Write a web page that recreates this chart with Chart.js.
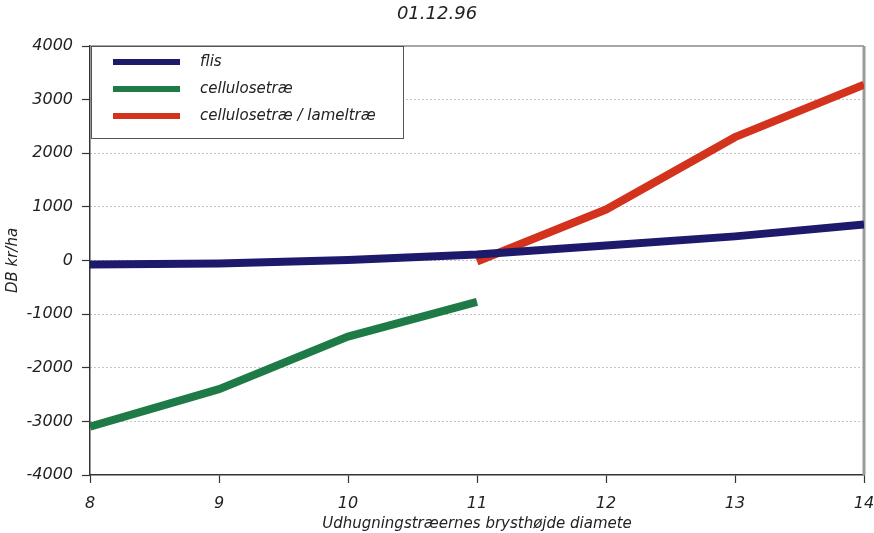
<!DOCTYPE html>
<html>
<head>
<meta charset="utf-8">
<title>DB kr/ha 01.12.96</title>
<script src="https://cdn.jsdelivr.net/npm/chart.js@4"></script>
<style>
  html, body { margin: 0; padding: 0; background: #fff; }
  #wrap { width: 874px; height: 533px; }
</style>
</head>
<body>
<div id="wrap"><canvas id="dbChart" width="874" height="533"></canvas></div>
<script>
// diameter classes (cm) and contribution margin per series (kr/ha)
var diameters = [8, 9, 10, 11, 12, 13, 14];
var flis = [-75, -55, 10, 110, 280, 450, 670];

var celluloseX = [8, 9, 10, 11];
var cellulose = [-3100, -2400, -1420, -770];

var lamelX = [11, 12, 13, 14];
var lamel = [-20, 950, 2300, 3280];

var yTicks = [-4000, -3000, -2000, -1000, 0, 1000, 2000, 3000, 4000];

var seriesNames = ['flis', 'cellulosetræ', 'cellulosetræ / lameltræ'];
var seriesColors = ['#1e1a6b', '#1e7a46', '#d3321c'];

function pts(xs, ys) {
    return xs.map(function (x, i) { return { x: x, y: ys[i] }; });
}

// boxed legend in the upper left corner of the plot
var boxLegend = {
    id: 'boxLegend',
    afterDatasetsDraw: function (chart) {
        var ctx = chart.ctx;
        var a = chart.chartArea;
        var x0 = a.left + 1, y0 = a.top, w = 312, h = 92;
        ctx.save();
        ctx.fillStyle = '#fff';
        ctx.fillRect(x0, y0, w, h);
        ctx.strokeStyle = '#555';
        ctx.lineWidth = 1;
        ctx.strokeRect(x0 + 0.5, y0 + 0.5, w, h);
        ctx.font = 'italic 15px "DejaVu Sans"';
        ctx.textBaseline = 'middle';
        chart.data.datasets.forEach(function (ds, i) {
            var cy = y0 + 16 + i * 27;
            ctx.strokeStyle = ds.borderColor;
            ctx.lineWidth = 6;
            ctx.beginPath();
            ctx.moveTo(x0 + 22, cy);
            ctx.lineTo(x0 + 89, cy);
            ctx.stroke();
            ctx.fillStyle = '#222';
            ctx.fillText(ds.label, x0 + 109, cy);
        });
        ctx.restore();
    }
};

// grey frame along the top and right edge of the plot
var frame = {
    id: 'frame',
    beforeDatasetsDraw: function (chart) {
        var ctx = chart.ctx;
        var a = chart.chartArea;
        ctx.save();
        ctx.strokeStyle = '#888';
        ctx.lineWidth = 1.5;
        ctx.beginPath();
        ctx.moveTo(a.left, a.top);
        ctx.lineTo(a.right, a.top);
        ctx.stroke();
        ctx.strokeStyle = '#9a9a9a';
        ctx.lineWidth = 3;
        ctx.beginPath();
        ctx.moveTo(a.right, a.top);
        ctx.lineTo(a.right, a.bottom);
        ctx.stroke();
        ctx.restore();
    }
};

Chart.defaults.font.family = '"DejaVu Sans", sans-serif';
Chart.defaults.font.style = 'italic';
Chart.defaults.color = '#222';

function lineSet(label, data, color) {
    return {
        label: label,
        data: data,
        borderColor: color,
        backgroundColor: color,
        borderWidth: 8,
        borderCapStyle: 'butt',
        pointRadius: 0,
        tension: 0,
        fill: false
    };
}

new Chart(document.getElementById('dbChart'), {
    type: 'line',
    data: {
        datasets: [
            lineSet(seriesNames[0], pts(diameters, flis), seriesColors[0]),
            lineSet(seriesNames[1], pts(celluloseX, cellulose), seriesColors[1]),
            lineSet(seriesNames[2], pts(lamelX, lamel), seriesColors[2])
        ]
    },
    options: {
        responsive: false,
        animation: false,
        layout: { padding: 0 },
        plugins: {
            legend: { display: false },
            tooltip: { enabled: false },
            title: {
                display: true,
                text: '01.12.96',
                color: '#222',
                font: { size: 18, style: 'italic', weight: 'normal', lineHeight: 1.2 },
                padding: { top: 4, bottom: 20.4 }
            }
        },
        scales: {
            x: {
                type: 'linear',
                min: 8,
                max: 14,
                afterFit: function (s) {
                    s.height = 58;
                    s.paddingLeft = 0;
                    s.paddingRight = 10;
                },
                ticks: {
                    stepSize: 1,
                    padding: 11,
                    font: { size: 16 },
                    color: '#222'
                },
                grid: {
                    drawOnChartArea: false,
                    tickLength: 8,
                    tickColor: '#333',
                    tickWidth: 1.2
                },
                border: { color: '#333', width: 1.5 },
                title: {
                    display: true,
                    text: 'Udhugningstræernes brysthøjde diamete',
                    font: { size: 15 },
                    color: '#222',
                    padding: { top: 0, bottom: 0 }
                }
            },
            y: {
                min: -4000,
                max: 4000,
                afterFit: function (s) { s.width = 90; },
                afterBuildTicks: function (s) {
                    s.ticks = yTicks.map(function (v) { return { value: v }; });
                },
                ticks: {
                    padding: 9,
                    font: { size: 16 },
                    color: '#222',
                    callback: function (v) { return String(v); }
                },
                grid: {
                    color: function (c) {
                        var v = c.tick && c.tick.value;
                        return (v === 4000 || v === -4000) ? 'rgba(0,0,0,0)' : '#8a8a8a';
                    },
                    lineWidth: 1,
                    tickLength: 8,
                    tickColor: '#333',
                    tickWidth: 1.2,
                    tickBorderDash: []
                },
                border: { color: '#333', width: 1.5, dash: [1, 3] },
                title: {
                    display: true,
                    text: 'DB kr/ha',
                    font: { size: 15 },
                    color: '#222',
                    padding: { top: 4, bottom: 0 }
                }
            }
        }
    },
    plugins: [frame, boxLegend]
});
</script>
</body>
</html>
